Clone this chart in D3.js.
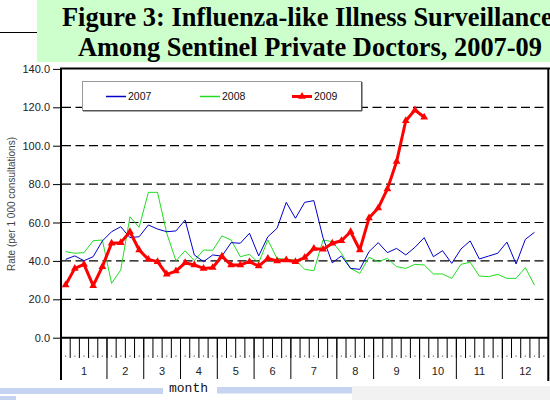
<!DOCTYPE html>
<html>
<head>
<meta charset="utf-8">
<script src="https://cdn.jsdelivr.net/npm/d3@7"></script>
<style>
  body { margin: 0; background: #fff; }
  svg { display: block; font-family: "Liberation Sans", Arial, sans-serif; }
  .grid { stroke: #000; stroke-width: 1.2; stroke-dasharray: 9,4.5; }
</style>
</head>
<body>
<div id="svg"></div>
<script>
// weekly rates, weeks 1..52 (2009 up to week 40)
var rate2007 = [40.8, 42.6, 40.1, 42.2, 50.4, 55.2, 57.8, 52.1, 52.6, 58.7, 56.6, 55.2, 55.6,
	61.3, 43.1, 39.6, 43.1, 42.5, 49.5, 49.2, 54.4, 42.6, 52.6, 57.0, 70.5, 62.2, 70.5, 71.4,
	52.0, 39.0, 42.6, 36.1, 35.6, 44.8, 49.5, 44.3, 46.5, 43.1, 47.1, 52.1, 42.2, 45.3, 38.7,
	46.2, 50.4, 41.0, 42.5, 44.0, 49.8, 38.4, 51.2, 54.9];
var rate2008 = [44.8, 44.0, 44.3, 50.5, 50.9, 28.3, 35.3, 63.0, 57.5, 75.7, 75.7, 54.4, 40.1,
	45.3, 40.1, 45.7, 45.5, 53.0, 50.9, 42.2, 43.4, 39.0, 50.9, 41.3, 40.8, 40.5, 35.6, 34.9,
	50.9, 50.0, 44.0, 36.1, 33.5, 41.9, 39.6, 41.3, 37.0, 36.1, 38.2, 37.9, 33.2, 33.2, 30.9,
	38.2, 39.3, 32.1, 31.8, 33.0, 30.9, 30.9, 36.5, 27.4];
var rate2009 = [27.4, 36.1, 38.2, 27.1, 37.0, 49.2, 49.5, 55.2, 45.7, 40.8, 39.6, 33.0, 34.7,
	39.0, 37.9, 36.1, 36.5, 42.4, 37.9, 37.9, 39.6, 37.3, 41.3, 40.0, 40.5, 39.6, 41.7, 46.5,
	46.0, 49.2, 50.5, 55.2, 45.7, 62.3, 67.5, 77.5, 91.7, 113.0, 118.6, 114.8];

var years = ['2007', '2008', '2009'];
var months = ['1', '2', '3', '4', '5', '6', '7', '8', '9', '10', '11', '12'];
var monthWeeks = [5, 4, 4, 4, 4, 4, 5, 4, 5, 4, 5, 5];
var yTicks = [0, 20, 40, 60, 80, 100, 120, 140];

var width = 550, height = 400;
var svg = d3.select('#svg').append('svg')
	.attr('width', width).attr('height', height);

var nSlots = d3.sum(monthWeeks);
var x = d3.scaleBand()
	.domain(d3.range(1, nSlots + 1))
	.range([61, 548.3]);
var y = d3.scaleLinear()
	.domain([0, 140])
	.range([337.7, 68.9]);
var bw = x.bandwidth();
var cx = function(w) { return x(w) + bw / 2; };

// title banner
svg.append('rect')
	.attr('x', 37).attr('y', 0).attr('width', 513).attr('height', 62)
	.attr('fill', '#ccffcc');
svg.append('line')
	.attr('x1', 0).attr('x2', 37).attr('y1', 32.5).attr('y2', 32.5)
	.attr('stroke', '#000').attr('stroke-width', 1);
var title = svg.append('g')
	.style('font-family', '"Liberation Serif", "Times New Roman", serif')
	.style('font-weight', 'bold')
	.style('font-size', '26.4px');
title.append('text').attr('x', 62).attr('y', 26)
	.text('Figure 3: Influenza-like Illness Surveillance');
title.append('text').attr('x', 78).attr('y', 55.5)
	.text('Among Sentinel Private Doctors, 2007-09');

// gridlines
svg.append('g').selectAll('line')
	.data(yTicks.filter(function(d) { return d > 0 && d < 140; }))
	.enter().append('line')
	.attr('class', 'grid')
	.attr('x1', 62).attr('x2', 548)
	.attr('y1', function(d) { return y(d); })
	.attr('y2', function(d) { return y(d); });

// y axis
var yAxis = svg.append('g')
	.attr('transform', 'translate(61,0)')
	.call(d3.axisLeft(y).tickValues(yTicks).tickFormat(d3.format('.1f')).tickSize(8).tickPadding(3));
yAxis.select('.domain').remove();
yAxis.selectAll('text').style('font-size', '11px').attr('fill', '#222')
	.style('font-family', '"Liberation Sans", Arial, sans-serif');

svg.append('text')
	.attr('transform', 'translate(15,204) rotate(-90)')
	.attr('text-anchor', 'middle')
	.style('font-size', '10px').attr('fill', '#444')
	.text('Rate (per 1 000 consultations)');

// x axis: week ticks, week dots, month boundaries and labels
var axisG = svg.append('g');
axisG.selectAll('.wtick')
	.data(d3.range(2, nSlots + 1))
	.enter().append('line')
	.attr('x1', function(d) { return x(d); }).attr('x2', function(d) { return x(d); })
	.attr('y1', 338).attr('y2', 358)
	.attr('stroke', '#000').attr('stroke-width', 1);
axisG.selectAll('.wdot')
	.data(d3.range(1, nSlots + 1))
	.enter().append('rect')
	.attr('x', function(d) { return cx(d) - 0.6; })
	.attr('y', 355.5).attr('width', 1.2).attr('height', 1.2)
	.attr('fill', '#666');

var starts = [1];
monthWeeks.forEach(function(n, i) { starts.push(starts[i] + n); });
axisG.selectAll('.mtick')
	.data(starts.slice(0, -1))
	.enter().append('line')
	.attr('x1', function(d) { return x(d); }).attr('x2', function(d) { return x(d); })
	.attr('y1', 338).attr('y2', 379)
	.attr('stroke', '#000').attr('stroke-width', 1);
axisG.selectAll('.mlabel')
	.data(months)
	.enter().append('text')
	.attr('x', function(d, i) {
		var a = x(starts[i]), b = x(starts[i + 1] - 1) + bw;
		return (a + b) / 2;
	})
	.attr('y', 375)
	.attr('text-anchor', 'middle')
	.style('font-size', '11px').attr('fill', '#222')
	.text(function(d) { return d; });

// plot frame
svg.append('path')
	.attr('d', 'M61,380V68.5H550M61,337.7H548.3M548.3,68.5V381')
	.attr('fill', 'none').attr('stroke', '#000').attr('stroke-width', 2);

// series
var line = function(data) {
	return d3.line()
		.x(function(d, i) { return cx(i + 1); })
		.y(function(d) { return y(d); })(data);
};
svg.append('path').attr('d', line(rate2008))
	.attr('fill', 'none').attr('stroke', '#22dd22').attr('stroke-width', 1);
svg.append('path').attr('d', line(rate2007))
	.attr('fill', 'none').attr('stroke', '#0000cc').attr('stroke-width', 1);
svg.append('path').attr('d', line(rate2009))
	.attr('fill', 'none').attr('stroke', '#ff0000').attr('stroke-width', 3)
	.attr('stroke-linejoin', 'round');

var tri = d3.symbol().type(d3.symbolTriangle).size(26);
svg.append('g').selectAll('path')
	.data(rate2009)
	.enter().append('path')
	.attr('d', tri)
	.attr('transform', function(d, i) { return 'translate(' + cx(i + 1) + ',' + y(d) + ')'; })
	.attr('fill', '#ff0000');

// legend
var lg = svg.append('g');
lg.append('rect')
	.attr('x', 82.5).attr('y', 81.5).attr('width', 279).attr('height', 29)
	.attr('fill', '#fff').attr('stroke', '#999').attr('stroke-width', 1);
lg.append('line').attr('x1', 83).attr('x2', 362).attr('y1', 110.8).attr('y2', 110.8)
	.attr('stroke', '#555').attr('stroke-width', 1.5);
lg.append('line').attr('x1', 361.8).attr('x2', 361.8).attr('y1', 82).attr('y2', 111)
	.attr('stroke', '#555').attr('stroke-width', 1.5);

var legendX = [106, 200, 292];
var legendColor = ['#0000cc', '#22dd22', '#ff0000'];
var legendWidth = [1.5, 1.5, 3];
years.forEach(function(yr, i) {
	lg.append('line')
		.attr('x1', legendX[i]).attr('x2', legendX[i] + 20)
		.attr('y1', 96.5).attr('y2', 96.5)
		.attr('stroke', legendColor[i]).attr('stroke-width', legendWidth[i]);
	lg.append('text')
		.attr('x', legendX[i] + 22).attr('y', 100.3)
		.style('font-size', '10.5px').attr('fill', '#111')
		.text(yr);
});
lg.append('path').attr('d', tri)
	.attr('transform', 'translate(' + (legendX[2] + 10) + ',96.5)')
	.attr('fill', '#ff0000');

// slide footer remnants
svg.append('rect').attr('x', 352).attr('y', 386).attr('width', 198).attr('height', 14)
	.attr('fill', '#f2f2f2');
svg.append('rect').attr('x', 0).attr('y', 388).attr('width', 163).attr('height', 6)
	.attr('fill', '#c6d3f1');
svg.append('rect').attr('x', 217).attr('y', 387).attr('width', 135).attr('height', 6.5)
	.attr('fill', '#c6d3f1');
svg.append('rect').attr('x', 0).attr('y', 396).attr('width', 16).attr('height', 4)
	.attr('fill', '#c6d3f1');
svg.append('text')
	.attr('x', 188.5).attr('y', 392)
	.attr('text-anchor', 'middle')
	.style('font-family', '"Liberation Mono", "Courier New", monospace')
	.style('font-size', '13px').attr('fill', '#111')
	.text('month');
</script>
</body>
</html>
